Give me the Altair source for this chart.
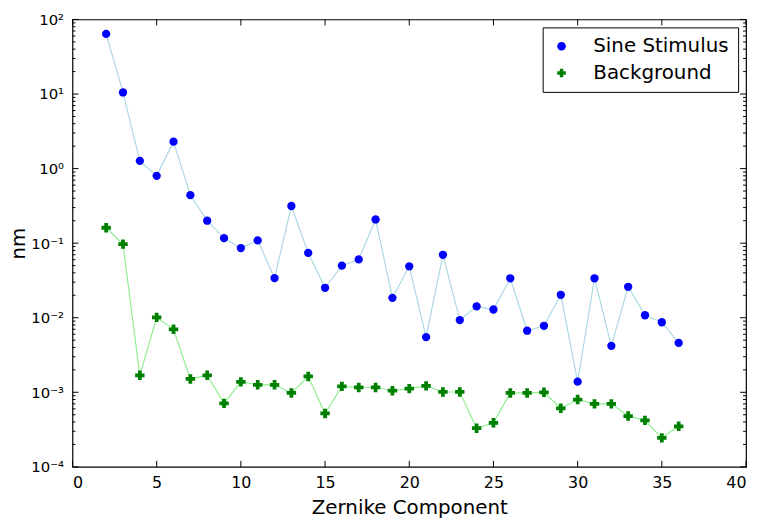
import altair as alt
import pandas as pd

# ---- data ----
zernike = list(range(2, 37))
sine_stimulus = [64, 10.5, 1.27, 0.80, 2.3, 0.44, 0.20, 0.117, 0.086, 0.109,
                 0.034, 0.315, 0.074, 0.0252, 0.0499, 0.0605, 0.208, 0.0185,
                 0.0489, 0.0055, 0.0698, 0.0093, 0.0142, 0.0129, 0.0338,
                 0.0067, 0.0078, 0.0203, 0.00139, 0.0338, 0.0042, 0.026,
                 0.0108, 0.0087, 0.0046]
background = [0.161, 0.097, 0.00169, 0.0101, 0.0070, 0.00151, 0.00169,
              0.00071, 0.00138, 0.00126, 0.00126, 0.00098, 0.00163, 0.00052,
              0.00120, 0.00116, 0.00116, 0.00105, 0.00112, 0.00122, 0.00101,
              0.00101, 0.00033, 0.00039, 0.00098, 0.00098, 0.00100, 0.00061,
              0.00080, 0.00070, 0.00070, 0.00048, 0.00042, 0.000245, 0.00035]
series_names = ["Sine Stimulus", "Background"]
marker_colors = ["#0000ff", "#008000"]
line_colors = ["#add8e6", "#90ee90"]
marker_shapes = ["circle", "cross"]
marker_sizes = [70, 90]
x_ticks = [0, 5, 10, 15, 20, 25, 30, 35, 40]
y_major = [1e-4, 1e-3, 1e-2, 1e-1, 1, 10, 100]
y_minor = [m * 10.0 ** k for k in range(-4, 2) for m in range(2, 10)]

W, H = 679, 451
FONT = "DejaVu Sans"

df = pd.DataFrame({
    "x": zernike * 2,
    "y": sine_stimulus + background,
    "series": [series_names[0]] * len(zernike) + [series_names[1]] * len(zernike),
})

xscale = alt.Scale(domain=[0, 40], nice=False, zero=False)
yscale = alt.Scale(type="log", domain=[1e-4, 1e2], nice=False)

xaxis = alt.Axis(values=x_ticks, ticks=False, domain=False, grid=False,
                 title="Zernike Component", labelFontSize=16, titleFontSize=20,
                 labelPadding=8, titlePadding=7, labelColor="black",
                 titleColor="black", titleFontWeight="normal", labelFont=FONT,
                 titleFont=FONT)
yaxis = alt.Axis(values=y_major, ticks=False, domain=False, grid=False,
                 title="nm", labelFontSize=15, titleFontSize=20,
                 labelPadding=9, titlePadding=2, labelColor="black",
                 titleColor="black", titleFontWeight="normal", labelFont=FONT,
                 titleFont=FONT,
                 labelExpr="'10' + ['⁻⁴','⁻³','⁻²','⁻¹','⁰','¹','²'][round(log(datum.value)/LN10)+4]")
XE = alt.X("x:Q", scale=xscale, axis=xaxis)
YE = alt.Y("y:Q", scale=yscale, axis=yaxis)

legend = alt.Legend(title=None, orient="top-right", offset=8,
                    labelFontSize=20, labelFont=FONT, labelColor="black",
                    symbolSize=75, padding=9, rowPadding=7,
                    strokeColor="black", fillColor="white",
                    symbolOpacity=1, labelOffset=22)
COLOR = alt.Color("series:N", scale=alt.Scale(domain=series_names, range=marker_colors),
                  legend=legend)
SHAPE = alt.Shape("series:N", scale=alt.Scale(domain=series_names, range=marker_shapes),
                  legend=legend)

base = alt.Chart(df)

line_layers = [
    base.transform_filter(alt.datum.series == name)
    .mark_line(strokeWidth=1.2, color=lc)
    .encode(x=XE, y=YE)
    for name, lc in zip(series_names, line_colors)
]

point_layers = [
    base.transform_filter(alt.datum.series == name)
    .mark_point(filled=True, opacity=1, size=sz)
    .encode(x=XE, y=YE, color=COLOR, shape=SHAPE)
    for name, sz in zip(series_names, marker_sizes)
]

xt = alt.Chart(pd.DataFrame({"x": x_ticks}))
ymj = alt.Chart(pd.DataFrame({"y": y_major}))
ymn = alt.Chart(pd.DataFrame({"y": y_minor}))

ticks = [
    xt.mark_rule(color="black").encode(x=XE, y=alt.value(H), y2=alt.value(H - 6)),
    xt.mark_rule(color="black").encode(x=XE, y=alt.value(0), y2=alt.value(6)),
    ymj.mark_rule(color="black").encode(y=YE, x=alt.value(0), x2=alt.value(6)),
    ymj.mark_rule(color="black").encode(y=YE, x=alt.value(W), x2=alt.value(W - 6)),
    ymn.mark_rule(color="black").encode(y=YE, x=alt.value(0), x2=alt.value(3)),
    ymn.mark_rule(color="black").encode(y=YE, x=alt.value(W), x2=alt.value(W - 3)),
]

chart = alt.layer(*line_layers, *point_layers, *ticks).properties(
    width=W, height=H,
    background="white",
    autosize=alt.AutoSizeParams(type="none"),
    padding={"left": 65, "top": 9.5, "right": 5, "bottom": 51},
).configure_view(stroke="black", strokeWidth=1.2)

chart.save("out.html", embed_options={"renderer": "svg", "actions": False})
